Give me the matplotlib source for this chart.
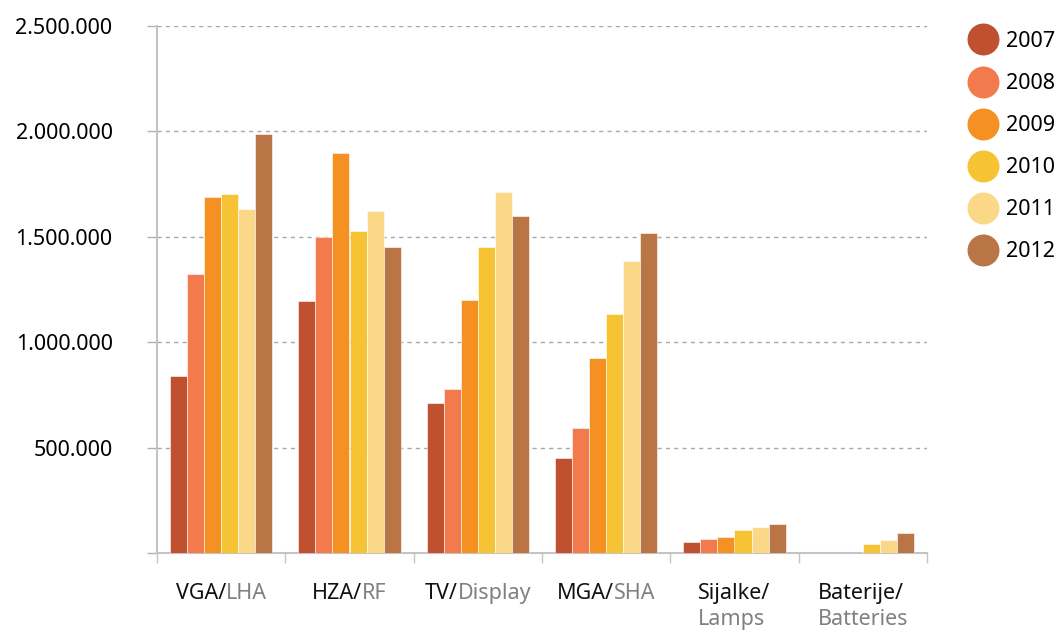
import matplotlib
matplotlib.use("Agg")
import matplotlib.pyplot as plt
import numpy as np
from matplotlib.lines import Line2D
from matplotlib.ticker import FuncFormatter, FixedLocator
from matplotlib.offsetbox import TextArea, HPacker, VPacker, AnnotationBbox

# data
cat_main = ['VGA/', 'HZA/', 'TV/', 'MGA/', 'Sijalke/', 'Baterije/']
cat_sub = ['LHA', 'RF', 'Display', 'SHA', 'Lamps', 'Batteries']
two_line = [False, False, False, False, True, True]
years = ['2007', '2008', '2009', '2010', '2011', '2012']
v2007 = [840000, 1195000, 712000, 451000, 50000, 0]
v2008 = [1324000, 1500000, 778000, 593000, 66000, 0]
v2009 = [1689000, 1898000, 1200000, 925000, 76000, 0]
v2010 = [1702000, 1528000, 1452000, 1134000, 107000, 43000]
v2011 = [1632000, 1622000, 1713000, 1385000, 121000, 62000]
v2012 = [1986000, 1453000, 1599000, 1518000, 138000, 93000]
series = [v2007, v2008, v2009, v2010, v2011, v2012]
colors = ['#BF5130', '#F27A4C', '#F59022', '#F6C334', '#FAD888', '#BA7546']

FONT = 'Noto Sans'
FS = 15.5
plt.rcParams['font.family'] = FONT
plt.rcParams['font.size'] = FS

fig = plt.figure(figsize=(10.58, 6.33), dpi=100)
ax = fig.add_axes([157/1058, 1 - 553/633, (927 - 157)/1058, (553 - 26)/633])

n = len(series)
w = 0.8 / n
x = np.arange(len(cat_main)) + 0.5
for i, (vals, c) in enumerate(zip(series, colors)):
    ax.bar(x - 0.4 + w*(i + 0.5), vals, width=w, color=c,
           edgecolor='white', linewidth=0.4, zorder=3)

ax.set_xlim(0, len(cat_main))
ax.set_ylim(0, 2500000)

for s in ['top', 'right']:
    ax.spines[s].set_visible(False)
for s in ['left', 'bottom']:
    ax.spines[s].set_color('#c4c4c4')
    ax.spines[s].set_linewidth(1.5)

ax.yaxis.set_major_locator(FixedLocator([0, 500000, 1000000, 1500000, 2000000, 2500000]))
ax.yaxis.set_major_formatter(FuncFormatter(lambda v, p: '' if v == 0 else f'{v:,.0f}'.replace(',', '.')))
ax.tick_params(axis='y', length=7, width=1, color='#b0b0b0', pad=25, labelsize=FS)
ax.xaxis.set_major_locator(FixedLocator(np.arange(len(cat_main) + 1)))
ax.tick_params(axis='x', length=7, width=1, color='#c4c4c4', labelbottom=False)
ax.yaxis.grid(True, linestyle=(0, (3, 3)), color='#a8a8a8', linewidth=1)
ax.set_axisbelow(True)

# two-tone category labels
for xi, m, s, tl in zip(x, cat_main, cat_sub, two_line):
    t1 = TextArea(m, textprops=dict(color='#111111', fontsize=FS, family=FONT))
    t2 = TextArea(s, textprops=dict(color='#808080', fontsize=FS, family=FONT))
    if tl:
        box = VPacker(children=[t1, t2], align='left', pad=0, sep=4)
    else:
        box = HPacker(children=[t1, t2], align='baseline', pad=0, sep=0)
    ab = AnnotationBbox(box, (xi, 0), xycoords=ax.get_xaxis_transform(),
                        xybox=(0, -21.5), boxcoords='offset points',
                        box_alignment=(0.5, 1), frameon=False)
    ax.add_artist(ab)

handles = [Line2D([], [], marker='o', linestyle='none', markersize=22,
                  markerfacecolor=c, markeredgecolor=c) for c in colors]
fig.legend(handles, years, loc='upper left', bbox_to_anchor=(968/1058, 1 - 31/633),
           frameon=False, fontsize=FS, labelspacing=0.98, handlelength=1.4,
           handletextpad=0.35, borderaxespad=0, borderpad=0)

fig.savefig('out.png', dpi=100)
